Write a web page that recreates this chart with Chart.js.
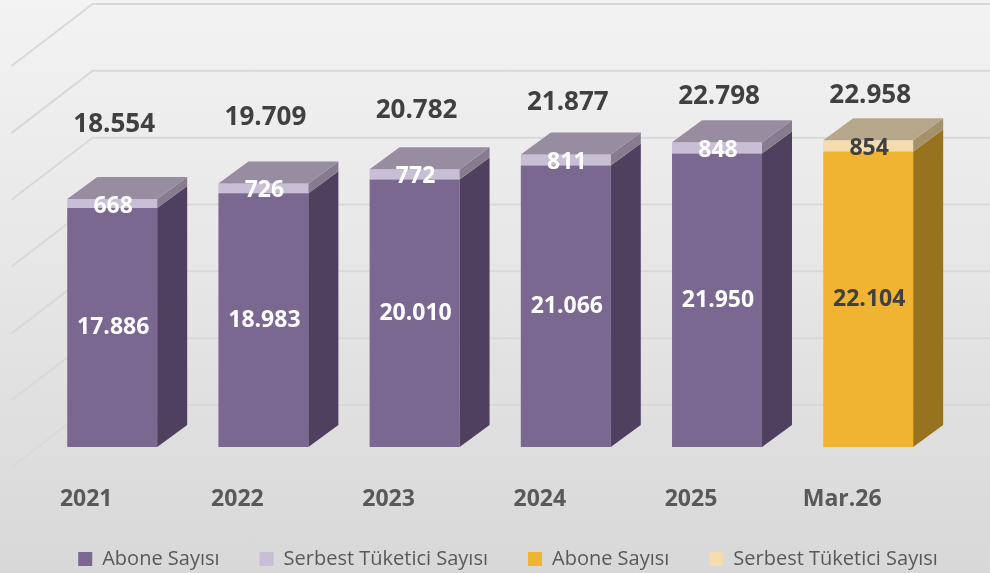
<!DOCTYPE html>
<html>
<head>
<meta charset="utf-8">
<script src="https://cdn.jsdelivr.net/npm/chart.js@4"></script>
<style>
  html, body { margin: 0; padding: 0; }
  #wrap { width: 990px; height: 573px; position: relative; background: linear-gradient(#f3f3f3, #d8d8d8); }
</style>
</head>
<body>
<div id="wrap"><canvas id="chart"></canvas></div>
<script>
// data
const years = ['2021', '2022', '2023', '2024', '2025', 'Mar.26'];
const aboneSayisi = [17886, 18983, 20010, 21066, 21950, null];
const serbestSayisi = [668, 726, 772, 811, 848, null];
const aboneSayisiMart = [null, null, null, null, null, 22104];
const serbestSayisiMart = [null, null, null, null, null, 854];
const toplam = [18554, 19709, 20782, 21877, 22798, 22958];

// 3d look
const DX = 30, DY = -22;            // bar depth
const WALL_DX = 56, WALL_DY = -42;  // back wall behind bar fronts
const SIDE_DX = -81, SIDE_DY = 62;  // left wall slant
const sideColors = ['#4f405f', '#877c8f', '#98731f', '#a5916a'];
const topColors = ['#978ca0', '#978ca0', '#b6a78a', '#b6a78a'];
const labelColors = ['#ffffff', '#ffffff', '#404040', '#404040'];

function fmt(v) {
    return String(v).replace(/\B(?=(\d{3})+(?!\d))/g, '.');
}

const wall3d = {
    id: 'wall3d',
    beforeDatasetsDraw(chart) {
        const { ctx, chartArea, scales: { y } } = chart;
        const x0 = chartArea.left + WALL_DX;
        ctx.save();
        ctx.strokeStyle = '#d9d9d9';
        ctx.lineWidth = 2;
        y.ticks.forEach(t => {
            const py = y.getPixelForValue(t.value) + WALL_DY;
            ctx.beginPath();
            ctx.moveTo(x0 + SIDE_DX, py + SIDE_DY);
            ctx.lineTo(x0, py);
            ctx.lineTo(chart.width, py);
            ctx.stroke();
        });
        ctx.restore();
    }
};

const bars3d = {
    id: 'bars3d',
    afterDatasetsDraw(chart) {
        const ctx = chart.ctx;
        const tops = {};
        ctx.save();
        for (let i = 0; i < 4; i++) {
            const meta = chart.getDatasetMeta(i);
            meta.data.forEach((bar, j) => {
                if (chart.data.datasets[i].data[j] == null) return;
                const { x, y, base, width } = bar.getProps(['x', 'y', 'base', 'width'], true);
                const r = x + width / 2;
                ctx.fillStyle = sideColors[i];
                ctx.beginPath();
                ctx.moveTo(r, y);
                ctx.lineTo(r + DX, y + DY);
                ctx.lineTo(r + DX, base + DY);
                ctx.lineTo(r, base);
                ctx.closePath();
                ctx.fill();
                tops[j] = { x, y, width, i };
            });
        }
        Object.values(tops).forEach(t => {
            const l = t.x - t.width / 2, r = t.x + t.width / 2;
            ctx.fillStyle = topColors[t.i];
            ctx.beginPath();
            ctx.moveTo(l, t.y);
            ctx.lineTo(l + DX, t.y + DY);
            ctx.lineTo(r + DX, t.y + DY);
            ctx.lineTo(r, t.y);
            ctx.closePath();
            ctx.fill();
        });

        // segment labels
        ctx.textAlign = 'center';
        ctx.textBaseline = 'middle';
        ctx.font = 'bold 23px "Open Sans"';
        for (let i = 0; i < 4; i++) {
            const meta = chart.getDatasetMeta(i);
            meta.data.forEach((bar, j) => {
                const v = chart.data.datasets[i].data[j];
                if (v == null) return;
                const { x, y, base } = bar.getProps(['x', 'y', 'base'], true);
                ctx.fillStyle = labelColors[i];
                ctx.fillText(fmt(v), x + 1, (y + base) / 2 + (i % 2 ? 2.5 : 0));
            });
        }

        // totals
        ctx.font = 'bold 26px "Open Sans"';
        ctx.fillStyle = '#404040';
        chart.getDatasetMeta(4).data.forEach((pt, j) => {
            ctx.fillText(fmt(toplam[j]), pt.x + 2, pt.y + 2.5);
        });
        ctx.restore();
    }
};

Chart.defaults.font.family = '"Open Sans", sans-serif';

document.addEventListener('DOMContentLoaded', function () {
    const ctx = document.getElementById('chart').getContext('2d');

    new Chart(ctx, {
        type: 'bar',
        data: {
            labels: years,
            datasets: [
                { label: 'Abone Sayısı', data: aboneSayisi, backgroundColor: '#7a6890' },
                { label: 'Serbest Tüketici Sayısı', data: serbestSayisi, backgroundColor: '#c8bed6' },
                { label: 'Abone Sayısı', data: aboneSayisiMart, backgroundColor: '#f0b432' },
                { label: 'Serbest Tüketici Sayısı', data: serbestSayisiMart, backgroundColor: '#f2dcb0' },
                {
                    type: 'line', label: 'Toplam', data: toplam, yAxisID: 'y2',
                    showLine: false, pointRadius: 0, pointHoverRadius: 0
                }
            ]
        },
        options: {
            responsive: true,
            maintainAspectRatio: false,
            animation: false,
            datasets: { bar: { barPercentage: 0.595, categoryPercentage: 1 } },
            layout: { padding: { left: 26, right: 0, top: 46, bottom: 0 } },
            plugins: {
                tooltip: { enabled: false },
                legend: {
                    position: 'bottom',
                    maxHeight: 64,
                    labels: {
                        boxWidth: 14,
                        boxHeight: 14,
                        padding: 40,
                        color: '#595959',
                        font: { size: 20 },
                        filter: item => item.datasetIndex < 4
                    }
                }
            },
            scales: {
                x: {
                    stacked: true,
                    grid: { display: false },
                    border: { display: false },
                    ticks: {
                        color: '#595959',
                        font: { size: 23, weight: 'bold' },
                        padding: 31,
                        labelOffset: -26,
                        maxRotation: 0
                    },
                    afterFit(s) { s.height = 62; }
                },
                y: {
                    stacked: true,
                    min: 0,
                    max: 30000,
                    ticks: { display: false, stepSize: 5000 },
                    grid: { display: false },
                    border: { display: false },
                    afterFit(s) { s.width = 10.6; }
                },
                y2: {
                    position: 'right',
                    min: -30000,
                    max: 30000,
                    ticks: { display: false },
                    grid: { display: false },
                    border: { display: false },
                    afterFit(s) { s.width = 46.2; }
                }
            }
        },
        plugins: [wall3d, bars3d]
    });
});
</script>
</body>
</html>
